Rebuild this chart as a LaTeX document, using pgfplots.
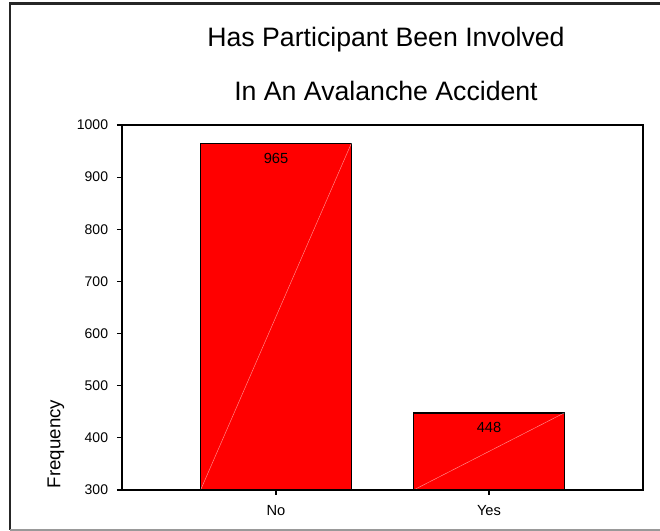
\documentclass[border=0pt]{standalone}
\usepackage{pgfplots}
\pgfplotsset{compat=1.18}
\usepackage{fontspec}
\setmainfont{Liberation Sans}

\begin{document}
\begin{tikzpicture}
  % overall page frame
  \useasboundingbox (0,0) rectangle (495pt,398.25pt);
  \draw[black!85, line width=1.9pt] (7.5pt,0.75pt) -- (7.5pt,395.6pt) -- (495pt,395.6pt);
  \draw[gray!80, line width=0.8pt] (7.5pt,0.75pt) -- (495pt,0.75pt);

  % two-line title
  \node[anchor=base, font=\fontsize{20}{24}\selectfont] at (289.5pt,363.2pt) {Has Participant Been Involved};
  \node[anchor=base, font=\fontsize{20}{24}\selectfont] at (289.5pt,322.7pt) {In An Avalanche Accident};

  % y axis label
  \node[anchor=base, rotate=90, font=\fontsize{14}{16}\selectfont] at (45.2pt,65.25pt) {Frequency};

  \begin{axis}[
    at={(91.5pt,30.75pt)}, anchor=south west,
    scale only axis,
    width=390.75pt, height=273.75pt,
    xmin=-0.723, xmax=1.723,
    ymin=300, ymax=1000,
    ytick={300,400,...,1000},
    xtick={0,1},
    xticklabels={No,Yes},
    tick align=outside,
    xtick pos=bottom, ytick pos=left,
    major tick length=3.75pt,
    tick style={black, line width=0.8pt},
    axis line style={black, line width=0.9pt},
    /pgf/number format/assume math mode=true,
    /pgf/number format/1000 sep={},
    yticklabel style={anchor=east, inner sep=0pt, xshift=-6.5pt, font=\fontsize{10.5}{12}\selectfont},
    xticklabel style={anchor=base, inner sep=0pt, yshift=-15.75pt, font=\fontsize{11}{13}\selectfont},
    ybar, bar width=113.25pt,
    nodes near coords,
    every node near coord/.append style={anchor=base, yshift=-15pt, font=\fontsize{11}{13}\selectfont, black},
  ]
    \addplot[fill=red, draw=black, line width=1.1pt] coordinates {(0,965) (1,448)};
    % faint diagonals across each bar
    \draw[white, opacity=0.6, line width=0.3pt] (axis cs:-0.354,300) -- (axis cs:0.354,965);
    \draw[white, opacity=0.6, line width=0.3pt] (axis cs:0.646,300) -- (axis cs:1.354,448);
    % heavier left and bottom axis lines
    \draw[black, line width=1.5pt] (rel axis cs:0,1) -- (rel axis cs:0,0) -- (rel axis cs:1,0);
  \end{axis}
\end{tikzpicture}
\end{document}
